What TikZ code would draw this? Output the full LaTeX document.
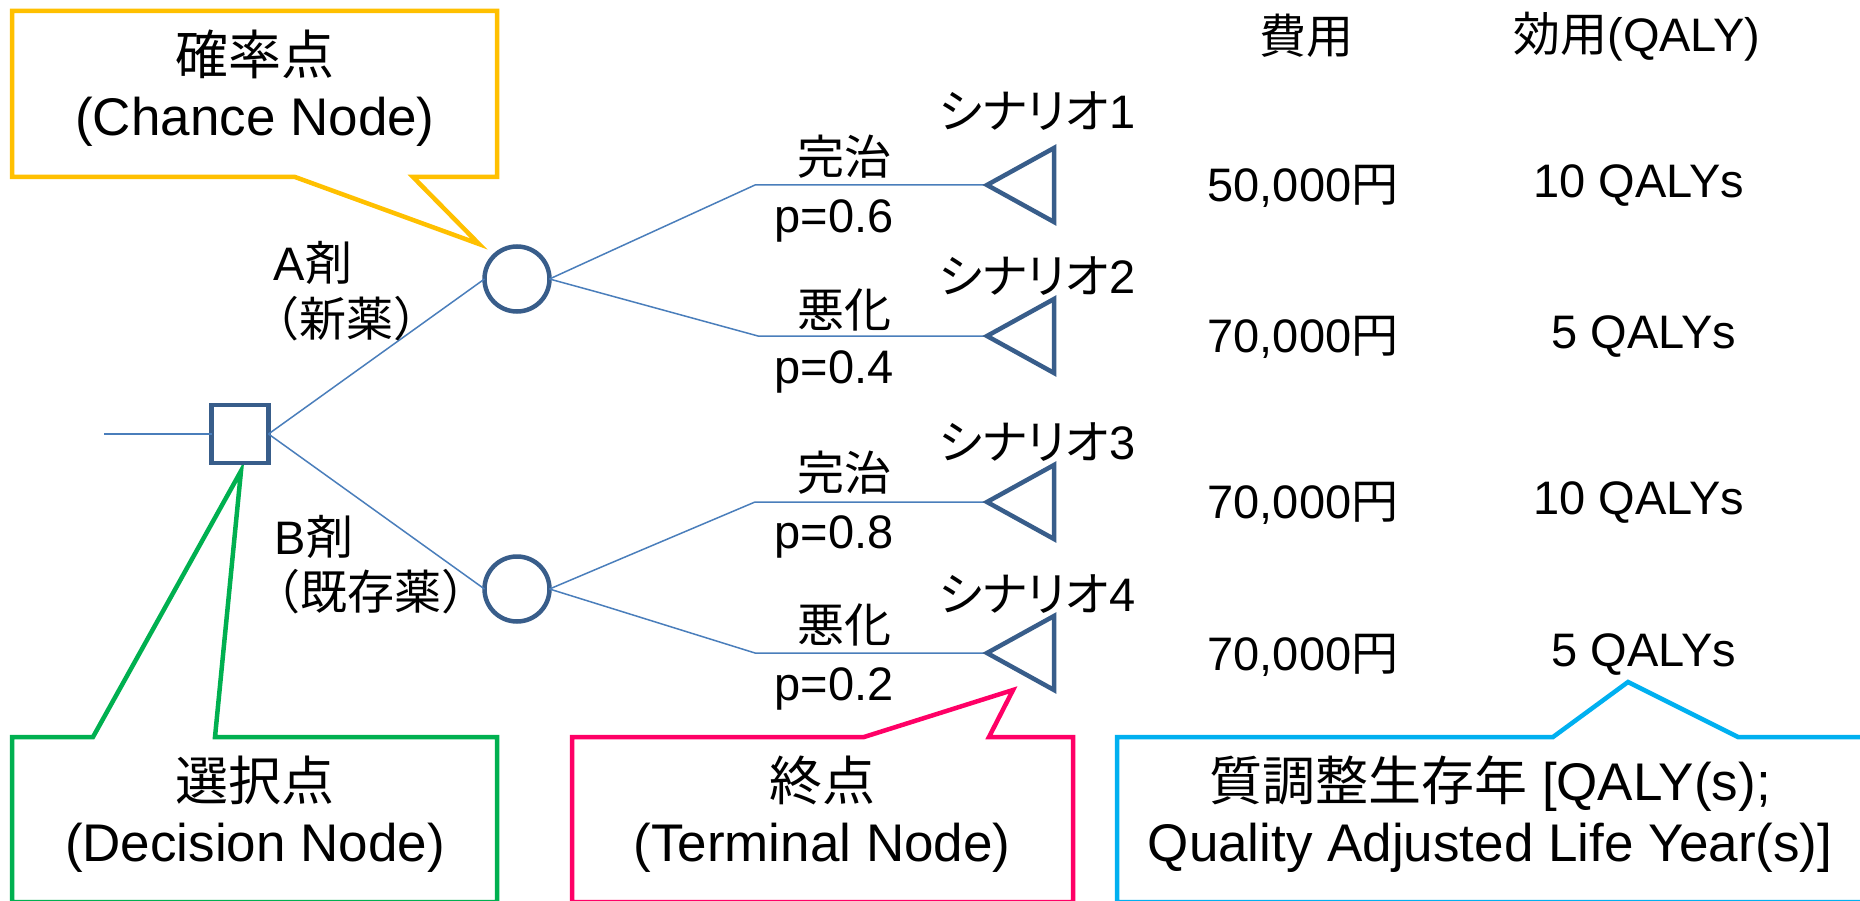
\documentclass[tikz,border=0pt]{standalone}
\usepackage{fontspec}
\setmainfont{Liberation Sans}
\newfontfamily\jp{Noto Sans CJK JP}
\newfontfamily\jpk{Noto Sans CJK JP}[RawFeature=+palt]
\definecolor{nodeblue}{HTML}{385D8A}
\definecolor{lineblue}{HTML}{4A7EBB}
\definecolor{cyellow}{HTML}{FFC000}
\definecolor{cgreen}{HTML}{00B050}
\definecolor{cpink}{HTML}{FF0066}
\definecolor{ccyan}{HTML}{00B0F0}
\tikzset{
  branch/.style={draw=lineblue, line width=1.5pt},
  decnode/.style={draw=nodeblue, line width=4.5pt, fill=white, rectangle, minimum width=57pt, minimum height=58pt, inner sep=0pt, outer sep=0pt},
  chnode/.style={draw=nodeblue, line width=4.5pt, fill=white, circle, minimum size=65pt, inner sep=0pt, outer sep=0pt},
  termshape/.style={draw=nodeblue, line width=4.5pt, fill=white, line join=miter},
  callout/.style={line width=4.5pt, fill=white, line join=miter},
  lbl/.style={inner sep=0pt, text=black, font=\fontsize{47}{56}\selectfont},
  ctxt/.style={inner sep=0pt, text=black, font=\fontsize{53}{62}\selectfont},
}
\begin{document}
\begin{tikzpicture}[x=1pt,y=-1pt]
\useasboundingbox (0,0) rectangle (1860,901);
\fill[white] (0,0) rectangle (1860,901);
\clip (0,0) rectangle (1860,901);

% callouts
\draw[callout, draw=cyellow] (12,11) -- (497,11) -- (497,177) -- (413,177) -- (479,244) -- (295,177) -- (12,177) -- cycle;
\draw[callout, draw=cgreen] (12,902) -- (12,737) -- (93,737) -- (241,471) -- (215,737) -- (497,737) -- (497,902) -- cycle;
\draw[callout, draw=cpink] (572,902) -- (572,737) -- (864,737) -- (1013,690) -- (989,737) -- (1073,737) -- (1073,902) -- cycle;
\draw[callout, draw=ccyan] (1117,902) -- (1117,737) -- (1553,737) -- (1628,682) -- (1738,737) -- (1880,737) -- (1880,902) -- cycle;

\node[ctxt] (yc1) at (255,54) {\jp 確率点};
\node[ctxt] (yc2) at (255,122) {(Chance Node)};
\node[ctxt] (gc1) at (255,780) {\jp 選択点};
\node[ctxt] (gc2) at (255,848) {(Decision Node)};
\node[ctxt] (pc1) at (822,780) {\jp 終点};
\node[ctxt] (pc2) at (822,848) {(Terminal Node)};
\node[ctxt] (bc1) at (1490,784) {{\jp 質調整生存年} [QALY(s);};
\node[ctxt] (bc2) at (1490,848) {Quality Adjusted Life Year(s)]};

% tree nodes
\node[decnode] (D) at (240,434) {};
\node[chnode] (C1) at (517,279) {};
\node[chnode] (C2) at (517,589) {};
\coordinate (S) at (104,434);
\coordinate (J1) at (755,185);
\coordinate (J2) at (758,336);
\coordinate (J3) at (755,502);
\coordinate (J4) at (755,653);
\coordinate (T1) at (987,185);
\coordinate (T2) at (987,336);
\coordinate (T3) at (987,502);
\coordinate (T4) at (987,653);

\draw[branch] (S) -- (D.west);
\draw[branch] (D.east) -- (C1.west);
\draw[branch] (D.east) -- (C2.west);
\draw[branch] (C1.east) -- (J1) -- (T1);
\draw[branch] (C1.east) -- (J2) -- (T2);
\draw[branch] (C2.east) -- (J3) -- (T3);
\draw[branch] (C2.east) -- (J4) -- (T4);

\foreach \t in {T1,T2,T3,T4}{
  \draw[termshape] (\t) -- ++(67,-37) -- ++(0,74) -- cycle;
}

% branch labels
\node[lbl] (la1) at (313,263) {A{\jp 剤}};
\node[lbl] (la2) at (346,319) {\jp （新薬）};
\node[lbl] (lb1) at (314,537) {B{\jp 剤}};
\node[lbl] (lb2) at (371,592) {\jp （既存薬）};

\node[lbl] (o1) at (844,157) {\jp 完治};
\node[lbl] (p1) at (834,221) {p=0.6};
\node[lbl] (o2) at (844,310) {\jp 悪化};
\node[lbl] (p2) at (834,372) {p=0.4};
\node[lbl] (o3) at (844,473) {\jp 完治};
\node[lbl] (p3) at (834,537) {p=0.8};
\node[lbl] (o4) at (844,625) {\jp 悪化};
\node[lbl] (p4) at (834,689) {p=0.2};

\node[lbl] (s1) at (1037,111) {{\jpk シナリオ}1};
\node[lbl] (s2) at (1037,276) {{\jpk シナリオ}2};
\node[lbl] (s3) at (1037,442) {{\jpk シナリオ}3};
\node[lbl] (s4) at (1037,594) {{\jpk シナリオ}4};

% table
\node[lbl] (h1) at (1306,36) {\jp 費用};
\node[lbl] (h2) at (1637,37) {{\jp 効用}(QALY)};
\node[lbl] (c1) at (1303,186) {50,000{\jp 円}};
\node[lbl] (u1) at (1639,186) {10 QALYs};
\node[lbl] (c2) at (1303,337) {70,000{\jp 円}};
\node[lbl] (u2) at (1644,337) {5 QALYs};
\node[lbl] (c3) at (1303,503) {70,000{\jp 円}};
\node[lbl] (u3) at (1639,503) {10 QALYs};
\node[lbl] (c4) at (1303,655) {70,000{\jp 円}};
\node[lbl] (u4) at (1644,655) {5 QALYs};
\end{tikzpicture}
\end{document}
